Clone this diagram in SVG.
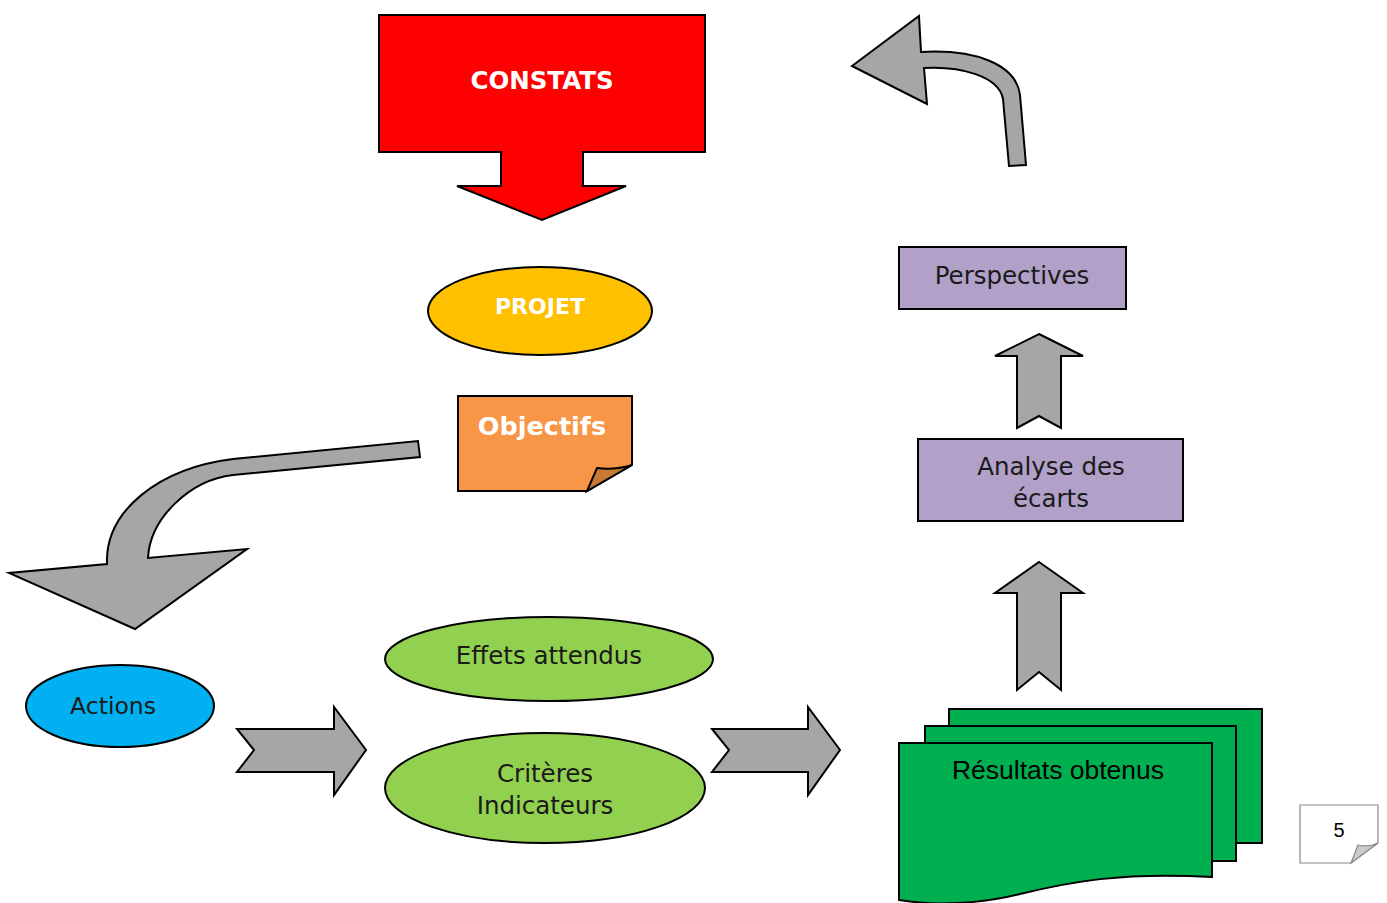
<svg xmlns="http://www.w3.org/2000/svg" width="1387" height="903" viewBox="0 0 1387 903">
<style>
.o{stroke:#000;stroke-width:2;stroke-linejoin:miter}
.g{fill:#A6A6A6;stroke:#000;stroke-width:2}
.t{font-family:"DejaVu Sans",sans-serif;text-anchor:middle;fill:#1a1a1a}
.w{font-family:"DejaVu Sans",sans-serif;font-weight:bold;text-anchor:middle;fill:#fff}
</style>
<rect width="1387" height="903" fill="#fff"/>
<g id="connectors">
<path class="g" d="M852,66 L919,16 L921,52 C975,49 1016,64 1020,95 L1026,165 L1009,166 L1003,99 C999,76 960,66 924,68 L927,104 Z"/>
<path class="g" d="M420,457 L418,441 L233,459 C160,468 105,510 107,564 L9,573 L135,629 L247,549 L148,558 C150,518 190,480 233,475 Z"/>
<path class="g" d="M237,729 L334,729 L334,707 L366,750 L334,795 L334,772 L237,772 L254,750 Z"/>
<path class="g" d="M712,729 L808,729 L808,707 L840,750 L808,795 L808,772 L712,772 L729,750 Z"/>
<path class="g" d="M1039,334 L1083,356 L1061,356 L1061,428 L1039,416 L1017,428 L1017,356 L995,356 Z"/>
<path class="g" d="M1039,562 L1083,593 L1061,593 L1061,690 L1039,672 L1017,690 L1017,593 L995,593 Z"/>
</g>
<g id="constats">
<path class="o" fill="#FF0000" d="M379,15 L705,15 L705,152 L583,152 L583,186 L626,186 L542,220 L457,186 L501,186 L501,152 L379,152 Z"/>
<text class="w" x="542" y="89" font-size="24.5">CONSTATS</text>
</g>
<g id="projet">
<ellipse class="o" fill="#FFC000" cx="540" cy="311" rx="112" ry="44"/>
<text class="w" x="540" y="314" font-size="22">PROJET</text>
</g>
<g id="objectifs">
<path class="o" fill="#F79646" d="M458,396 L632,396 L632,465 L587,491 L458,491 Z"/>
<path class="o" fill="#C77A35" d="M587,491 L597,468 C610,470 622,468 632,465 Z"/>
<text class="w" x="542" y="435" font-size="25.5">Objectifs</text>
</g>
<g id="actions">
<ellipse class="o" fill="#00B0F0" cx="120" cy="706" rx="94" ry="41"/>
<text class="t" x="113" y="714" font-size="23.5">Actions</text>
</g>
<g id="effets">
<ellipse class="o" fill="#92D050" cx="549" cy="659" rx="164" ry="42"/>
<text class="t" x="549" y="664" font-size="24.5">Effets attendus</text>
</g>
<g id="criteres">
<ellipse class="o" fill="#92D050" cx="545" cy="788" rx="160" ry="55"/>
<text class="t" x="545" y="782" font-size="24.5">Critères</text>
<text class="t" x="545" y="814" font-size="24.5">Indicateurs</text>
</g>
<g id="resultats">
<rect class="o" fill="#00B050" x="949" y="709" width="313" height="134"/>
<rect class="o" fill="#00B050" x="925" y="726" width="311" height="135"/>
<path class="o" fill="#00B050" d="M899,743 L1212,743 L1212,877 C1120,872 1070,882 1020,894 C980,904 935,906 899,900 Z"/>
<text x="1058" y="779" font-size="26.5" text-anchor="middle" font-family="Liberation Sans,Arial,sans-serif" fill="#000">Résultats obtenus</text>
</g>
<g id="analyse">
<rect class="o" fill="#B1A0C7" x="918" y="439" width="265" height="82"/>
<text class="t" x="1051" y="475" font-size="24.5">Analyse des</text>
<text class="t" x="1051" y="507" font-size="24.5">écarts</text>
</g>
<g id="perspectives">
<rect class="o" fill="#B1A0C7" x="899" y="247" width="227" height="62"/>
<text class="t" x="1012" y="284" font-size="24.5">Perspectives</text>
</g>
<g id="page">
<path fill="#fff" stroke="#888" stroke-width="1.2" d="M1300,805 L1378,805 L1378,843 L1351,863 L1300,863 Z"/>
<path fill="#ccc" stroke="#888" stroke-width="1.2" d="M1351,863 L1358,845 C1366,847 1372,846 1378,843 Z"/>
<text x="1339" y="837" font-size="20" text-anchor="middle" font-family="Liberation Sans,Arial,sans-serif" fill="#000">5</text>
</g>
</svg>
